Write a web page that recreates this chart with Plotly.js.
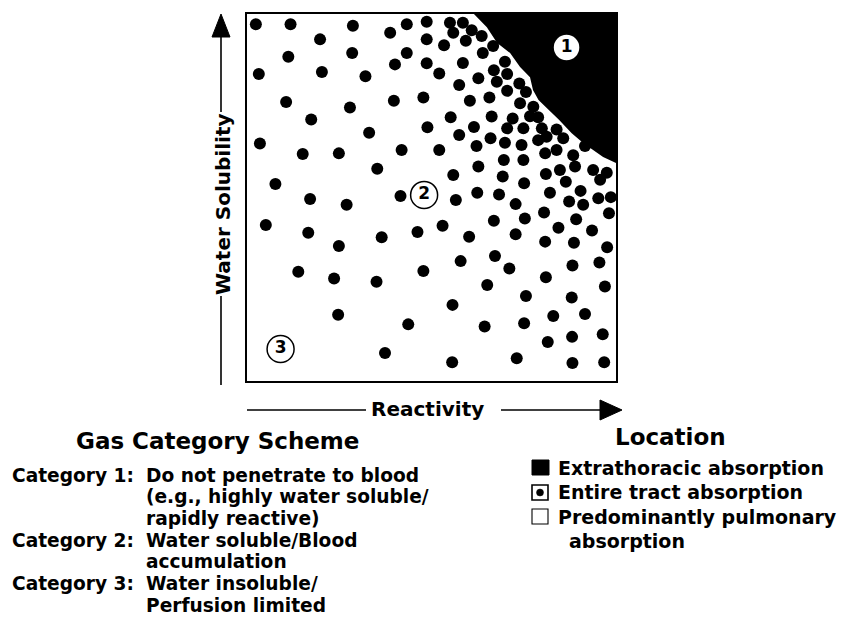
<!DOCTYPE html>
<html>
<head>
<meta charset="utf-8">
<script src="https://cdn.plot.ly/plotly-3.0.1.min.js"></script>
<style>html,body{margin:0;padding:0;background:#fff;}#chart{width:842px;height:631px;}</style>
</head>
<body>
<div id="chart"></div>
<script>
// ---- data (0-100 relative scales) ----
const reactivity = [2.4,11.8,28.7,43.3,48.7,38.8,19.8,48.7,11.2,28.5,43.3,40.1,48.7,3.2,20.3,32.1,10.6,27.9,39.8,47.8,17.4,33.1,48.9,3.5,15.1,24.9,41.9,35.3,7.7,17.1,27.0,41.6,5.1,16.6,24.9,36.5,46.2,13.9,23.6,35.1,47.8,24.7,43.7,37.4,
56.6,62.4,68.3,72.8,82.1,90.4,87.3,91.1,95.2,98.6,75.3,80.5,89.2,98.1,66.9,53.0,60.2,72.8,84.4,93.5,80.8,88.6,97.6,67.2,57.9,71.1,88.2,95.5,81.0,65.1,97.0,75.6,88.0,55.7,83.0,91.6,64.4,75.1,81.5,88.1,96.4,55.6,73.1,88.2,96.8,
55.0,58.5,55.9,60.9,53.4,59.3,63.6,58.5,63.9,66.7,52.1,62.7,66.9,69.9,57.5,67.7,70.5,73.8,60.4,65.7,70.5,75.6,74.0,77.6,55.2,61.5,66.3,72.0,76.7,78.9,57.5,66.0,70.5,74.9,79.9,83.9,52.1,62.2,69.9,74.4,78.9,81.2,85.7,62.7,69.6,74.9,80.8,83.9,88.4,91.6,55.9,69.3,75.1,81.0,84.8,88.9,93.8,97.5,95.7,86.4];
const solubility = [97.5,97.5,97.1,97.5,98.2,95.2,93.4,93.4,88.7,89.7,89.7,86.6,86.9,84.0,84.5,83.4,76.4,74.9,76.7,77.6,71.6,68.0,69.5,65.1,62.2,62.4,63.3,58.2,54.1,50.0,48.4,50.8,42.9,40.8,37.2,39.6,41.0,30.2,28.4,27.5,30.4,18.5,15.9,8.1,
49.7,51.7,51.2,48.6,51.7,52.2,49.3,48.4,50.2,50.5,44.7,46.3,44.5,46.1,44.1,42.7,39.7,40.4,42.2,41.4,38.4,38.1,36.9,34.5,33.1,31.1,31.9,32.7,28.7,26.6,26.2,23.6,23.2,21.2,18.2,18.7,15.3,16.2,11.1,12.5,13.2,5.6,6.7,5.4,5.6,
97.9,97.9,95.2,95.9,91.8,93.0,94.3,87.0,89.7,91.6,84.1,82.8,85.0,87.3,81.0,81.9,84.0,81.4,76.7,77.6,79.4,79.1,76.0,75.1,72.2,69.6,72.4,71.9,72.5,72.2,67.4,66.5,69.2,69.2,69.2,68.9,63.3,64.4,65.3,64.7,66.0,66.9,66.5,58.8,60.6,60.6,62.4,63.3,61.9,64.4,56.5,56.1,54.3,56.8,57.9,58.8,57.9,57.1,55.2,54.7];

// dense (merged) region of category 1, upper right corner
const denseX = [61.5,65.0,67.8,71.3,74.0,76.7,77.5,79.0,81.8,84.6,88.0,91.1,93.8,96.5,100,100];
const denseY = [100.3,96.7,92.4,89.7,85.9,83.1,79.6,76.9,74.2,71.5,67.9,65.2,63.3,61.4,59.8,100.3];

// category label circles
const catNumbers = ['1','2','3'];
const catX = [86.6,48.0,9.1];
const catY = [91.2,51.1,9.2];

const xTitle = 'Reactivity';
const yTitle = 'Water Solubility';
const schemeTitle = 'Gas Category Scheme';
const catLabels = ['Category 1:','Category 2:','Category 3:'];
const catDesc = [
  ['Do not penetrate to blood','(e.g., highly water soluble/','rapidly reactive)'],
  ['Water soluble/Blood','accumulation'],
  ['Water insoluble/','Perfusion limited']
];
const locTitle = 'Location';
const locLabels = [['Extrathoracic absorption'],['Entire tract absorption'],['Predominantly pulmonary','absorption']];

// ---- layout helpers ----
const M = {l:247, r:226, t:14, b:250, W:842, H:631};
const PW = M.W - M.l - M.r, PH = M.H - M.t - M.b;
function fx(px){ return (px - M.l) / PW; }
function fy(py){ return (M.H - M.b - py) / PH; }
const FONT = 'DejaVu Sans, Arial, sans-serif';

const traces = [
  {x: denseX, y: denseY, type:'scatter', mode:'lines', fill:'toself',
   fillcolor:'#000', line:{width:0, color:'#000'}, hoverinfo:'skip', showlegend:false},
  {x: reactivity, y: solubility, type:'scatter', mode:'markers',
   marker:{size:12, color:'#000', line:{width:0}}, cliponaxis:false, showlegend:false},
  {x: catX, y: catY, type:'scatter', mode:'markers+text',
   text: catNumbers.map(s => '<b>'+s+'</b>'), textposition:'middle center',
   textfont:{family:FONT, size:17, color:'#000'},
   marker:{size:27, color:'#fff', line:{color:'#000', width:1.5}}, cliponaxis:false, showlegend:false}
];

const ann = [];
function addText(text, px, py, size, xanchor, angle){
  ann.push({text:'<b>'+text+'</b>', xref:'paper', yref:'paper', x:fx(px), y:fy(py),
    xanchor:xanchor||'left', yanchor:'middle', showarrow:false, textangle:angle||0,
    font:{family:FONT, size:size, color:'#000'}});
}
addText(xTitle, 427.5, 409, 20, 'center');
addText(yTitle, 223, 204, 20, 'center', -90);
addText(schemeTitle, 217.5, 441, 23, 'center');
addText(locTitle, 670, 437, 23, 'center');

const lineStep = 21.7;
let row = 0;
catLabels.forEach((lab, i) => {
  const y0 = 475 + row*lineStep;
  addText(lab, 10, y0, 18.6, 'left');
  catDesc[i].forEach((d, j) => { addText(d, 144, 475 + (row+j)*lineStep, 18.6, 'left'); });
  row += catDesc[i].length;
});

const locRows = [467.5, 492, 516.5, 541];
let lr = 0;
locLabels.forEach((lines) => {
  lines.forEach((t, j) => { addText(t, j === 0 ? 556 : 566.7, locRows[lr+j], 19, 'left'); });
  lr += lines.length;
});

const shapes = [];
function seg(x0,y0,x1,y1){
  shapes.push({type:'line', xref:'paper', yref:'paper', x0:fx(x0), y0:fy(y0), x1:fx(x1), y1:fy(y1),
    line:{color:'#000', width:1.6}});
}
function tri(pts){
  const d = 'M' + pts.map(p => fx(p[0]) + ',' + fy(p[1])).join(' L') + ' Z';
  shapes.push({type:'path', xref:'paper', yref:'paper', path:d, fillcolor:'#000', line:{color:'#000', width:1}});
}
// y arrow
seg(221, 385, 221, 296);
seg(221, 112, 221, 34);
tri([[212,37],[230,37],[221,14]]);
// x arrow
seg(247, 410, 366, 410);
seg(501, 410, 602, 410);
tri([[600,400],[600,420],[622,410]]);

// location legend symbols
function rect(x0,y0,x1,y1,fill,w){
  shapes.push({type:'rect', xref:'paper', yref:'paper', x0:fx(x0), y0:fy(y0), x1:fx(x1), y1:fy(y1),
    fillcolor:fill, line:{color:'#000', width:w}});
}
rect(532,460,549,475,'#000',1);
rect(532,485,548,500,'#fff',1.6);
shapes.push({type:'circle', xref:'paper', yref:'paper', x0:fx(536.5), y0:fy(489), x1:fx(543.5), y1:fy(496),
  fillcolor:'#000', line:{color:'#000', width:0.5}});
rect(532,509,548,524,'#fff',1.1);

const layout = {
  width:M.W, height:M.H,
  margin:{l:M.l, r:M.r, t:M.t, b:M.b, pad:0},
  paper_bgcolor:'#fff', plot_bgcolor:'#fff',
  showlegend:false,
  xaxis:{range:[0,100], showgrid:false, zeroline:false, showticklabels:false, ticks:'',
         showline:true, mirror:true, linecolor:'#000', linewidth:2, fixedrange:true},
  yaxis:{range:[0.5,100.3], showgrid:false, zeroline:false, showticklabels:false, ticks:'',
         showline:true, mirror:true, linecolor:'#000', linewidth:2, fixedrange:true},
  annotations: ann,
  shapes: shapes,
  font:{family:FONT, color:'#000'}
};

Plotly.newPlot('chart', traces, layout, {displayModeBar:false, staticPlot:true});
</script>
</body>
</html>
